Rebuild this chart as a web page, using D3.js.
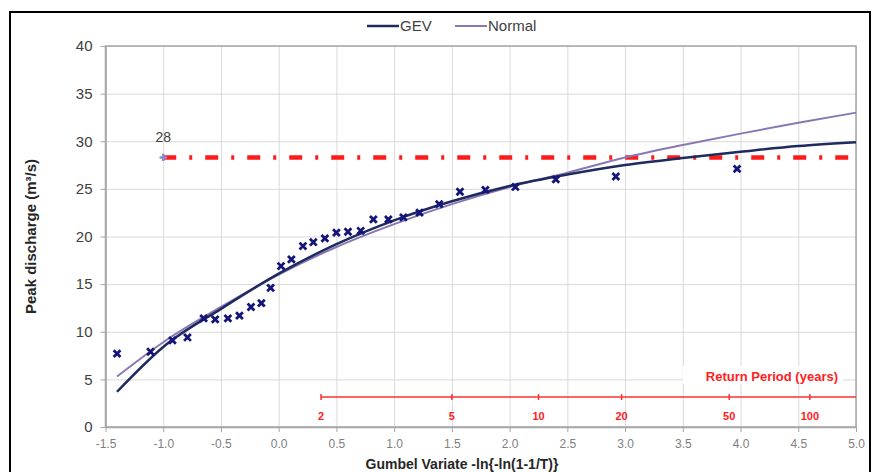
<!DOCTYPE html>
<html>
<head>
<meta charset="utf-8">
<script src="https://cdn.jsdelivr.net/npm/d3@7"></script>
<style>
  body { margin: 0; background: #fff; }
  text { font-family: "Liberation Sans", Arial, sans-serif; }
  .grid line { stroke: #d9d9d9; stroke-width: 1; }
  .grid path { stroke: none; }
  .axis path, .axis line { stroke: #a6a6a6; }
</style>
</head>
<body>
<div id="chart"></div>
<script>
// observed floods: gumbel variate / peak discharge (m3/s)
var obsX = [-1.40, -1.11, -0.92, -0.79, -0.65, -0.55, -0.44, -0.34, -0.24, -0.15,
             -0.07, 0.02, 0.11, 0.21, 0.30, 0.40, 0.50, 0.60, 0.71, 0.82,
             0.95, 1.08, 1.22, 1.39, 1.57, 1.79, 2.05, 2.40, 2.92, 3.97]
var obsY = [7.7, 7.9, 9.1, 9.4, 11.4, 11.3, 11.4, 11.7, 12.6, 13.0,
            14.6, 16.9, 17.6, 19.0, 19.4, 19.8, 20.4, 20.5, 20.6, 21.8,
            21.8, 22.0, 22.5, 23.4, 24.7, 24.9, 25.2, 26.0, 26.3, 27.1]

// fitted curves
var curveX  = [-1.4, -1.0, -0.5, 0.0, 0.5, 1.0, 1.5, 2.0, 2.5, 3.0, 3.5, 4.0, 4.5, 5.0]
var gevY    = [3.7, 8.4, 12.4, 16.1, 19.2, 21.7, 23.7, 25.3, 26.5, 27.5, 28.25, 28.9, 29.5, 29.9]
var normalY = [5.3, 8.9, 12.6, 16.0, 18.9, 21.3, 23.4, 25.2, 26.7, 28.3, 29.6, 30.8, 31.95, 33.0]

var thresholdStart = -1.0
var thresholdValue = 28.3
var thresholdLabel = "28"

var returnPeriods = [2, 5, 10, 20, 50, 100]
var xTicks = [-1.5, -1.0, -0.5, 0.0, 0.5, 1.0, 1.5, 2.0, 2.5, 3.0, 3.5, 4.0, 4.5, 5.0]
var yTicks = [0, 5, 10, 15, 20, 25, 30, 35, 40]

function gumbel(T) { return -Math.log(-Math.log(1 - 1 / T)) }

var W = 875, H = 472
var pLeft = 105.5, pRight = 856, pTop = 46, pBottom = 427

var svg = d3.select("#chart").append("svg")
	.attr("width", W)
	.attr("height", H)

// outer frame
svg.append("rect")
	.attr("x", 10).attr("y", 12)
	.attr("width", 860).attr("height", 480)
	.attr("fill", "none")
	.attr("stroke", "#000")
	.attr("stroke-width", 2)

var x = d3.scaleLinear().domain([-1.5, 5.0]).range([pLeft, pRight])
var y = d3.scaleLinear().domain([0, 40]).range([pBottom, pTop])

// gridlines
svg.append("g")
	.attr("class", "grid")
	.attr("transform", "translate(0," + pBottom + ")")
	.call(d3.axisBottom(x).tickValues(xTicks).tickSize(-(pBottom - pTop)).tickFormat(""))

svg.append("g")
	.attr("class", "grid")
	.attr("transform", "translate(" + pLeft + ",0)")
	.call(d3.axisLeft(y).tickValues(yTicks).tickSize(-(pRight - pLeft)).tickFormat(""))

// plot border
svg.append("rect")
	.attr("x", pLeft).attr("y", pTop)
	.attr("width", pRight - pLeft).attr("height", pBottom - pTop)
	.attr("fill", "none")
	.attr("stroke", "#a6a6a6")
	.attr("stroke-width", 1.5)

// axes
var fmt = d3.format(".1f")
var xAxis = svg.append("g")
	.attr("class", "axis")
	.attr("transform", "translate(0," + pBottom + ")")
	.call(d3.axisBottom(x).tickValues(xTicks).tickSize(5).tickSizeOuter(0)
		.tickFormat(function(d) { return fmt(d).replace("\u2212", "-") }))
xAxis.selectAll("text")
	.attr("dy", "1.05em")
	.style("font-size", "12px")
	.attr("fill", "#808080")

var yAxis = svg.append("g")
	.attr("class", "axis")
	.attr("transform", "translate(" + pLeft + ",0)")
	.call(d3.axisLeft(y).tickValues(yTicks).tickSize(5).tickSizeOuter(0))
yAxis.selectAll("text")
	.attr("x", -13)
	.style("font-size", "15px")
	.attr("fill", "#404040")
xAxis.select(".domain").attr("stroke-width", 1.5)
yAxis.select(".domain").attr("stroke-width", 1.5)

// axis titles
svg.append("text")
	.attr("transform", "translate(36," + (pTop + pBottom) / 2 + ") rotate(-90)")
	.attr("text-anchor", "middle")
	.style("font-size", "15px")
	.style("font-weight", "bold")
	.attr("fill", "#262626")
	.text("Peak discharge (m³/s)")

svg.append("text")
	.attr("x", 462).attr("y", 469)
	.attr("text-anchor", "middle")
	.style("font-size", "14px")
	.style("font-weight", "bold")
	.attr("fill", "#262626")
	.text("Gumbel Variate -ln{-ln(1-1/T)}")

// return period axis
var rpY = 397
var rp = svg.append("g")
rp.append("rect")
	.attr("x", 683).attr("y", 366)
	.attr("width", 160).attr("height", 18)
	.attr("fill", "#fff")
rp.append("text")
	.attr("x", 838).attr("y", 381)
	.attr("text-anchor", "end")
	.style("font-size", "13px")
	.style("font-weight", "bold")
	.attr("fill", "#ff2020")
	.text("Return Period (years)")
rp.append("line")
	.attr("x1", x(gumbel(returnPeriods[0]))).attr("x2", pRight)
	.attr("y1", rpY).attr("y2", rpY)
	.attr("stroke", "#ff3030")
	.attr("stroke-width", 1.5)
rp.selectAll(".rptick")
	.data(returnPeriods)
	.enter().append("line")
	.attr("x1", function(d) { return x(gumbel(d)) })
	.attr("x2", function(d) { return x(gumbel(d)) })
	.attr("y1", rpY - 3).attr("y2", rpY + 3)
	.attr("stroke", "#ff3030")
	.attr("stroke-width", 1.5)
rp.selectAll(".rplabel")
	.data(returnPeriods)
	.enter().append("text")
	.attr("x", function(d) { return x(gumbel(d)) })
	.attr("y", 420)
	.attr("text-anchor", "middle")
	.style("font-size", "11px")
	.style("font-weight", "bold")
	.attr("fill", "#ff2020")
	.text(function(d) { return d })

// threshold line
svg.append("line")
	.attr("x1", x(thresholdStart)).attr("x2", pRight - 4)
	.attr("y1", y(thresholdValue)).attr("y2", y(thresholdValue))
	.attr("stroke", "#ff1a1a")
	.attr("stroke-width", 4.5)
	.attr("stroke-dasharray", "13,13,3,13")
svg.append("path")
	.attr("d", d3.symbol().type(d3.symbolCross).size(30)())
	.attr("transform", "translate(" + x(thresholdStart) + "," + y(thresholdValue) + ")")
	.attr("fill", "#8a8ad0")
svg.append("text")
	.attr("x", x(thresholdStart)).attr("y", y(thresholdValue) - 15)
	.attr("text-anchor", "middle")
	.style("font-size", "14px")
	.attr("fill", "#404040")
	.text(thresholdLabel)

// fitted curves
var line = d3.line()
	.x(function(d) { return x(d[0]) })
	.y(function(d) { return y(d[1]) })
	.curve(d3.curveMonotoneX)

svg.append("path")
	.datum(d3.zip(curveX, normalY))
	.attr("d", line)
	.attr("fill", "none")
	.attr("stroke", "#8878b2")
	.attr("stroke-width", 2)

svg.append("path")
	.datum(d3.zip(curveX, gevY))
	.attr("d", line)
	.attr("fill", "none")
	.attr("stroke", "#1f2a5e")
	.attr("stroke-width", 2.5)

// observations
svg.selectAll(".obs")
	.data(d3.zip(obsX, obsY))
	.enter().append("path")
	.attr("d", d3.symbol().type(d3.symbolX).size(32)())
	.attr("transform", function(d) { return "translate(" + x(d[0]) + "," + y(d[1]) + ")" })
	.attr("fill", "none")
	.attr("stroke", "#14147a")
	.attr("stroke-width", 2.8)

// legend
var legend = svg.append("g")
var items = [{name: "GEV", color: "#1f2a5e", x: 367, w: 2.5},
             {name: "Normal", color: "#8878b2", x: 455, w: 2}]
items.forEach(function(it) {
	legend.append("line")
		.attr("x1", it.x).attr("x2", it.x + 32)
		.attr("y1", 26).attr("y2", 26)
		.attr("stroke", it.color)
		.attr("stroke-width", it.w)
	legend.append("text")
		.attr("x", it.x + 33).attr("y", 31)
		.style("font-size", "15px")
		.attr("fill", "#404040")
		.text(it.name)
})
</script>
</body>
</html>
